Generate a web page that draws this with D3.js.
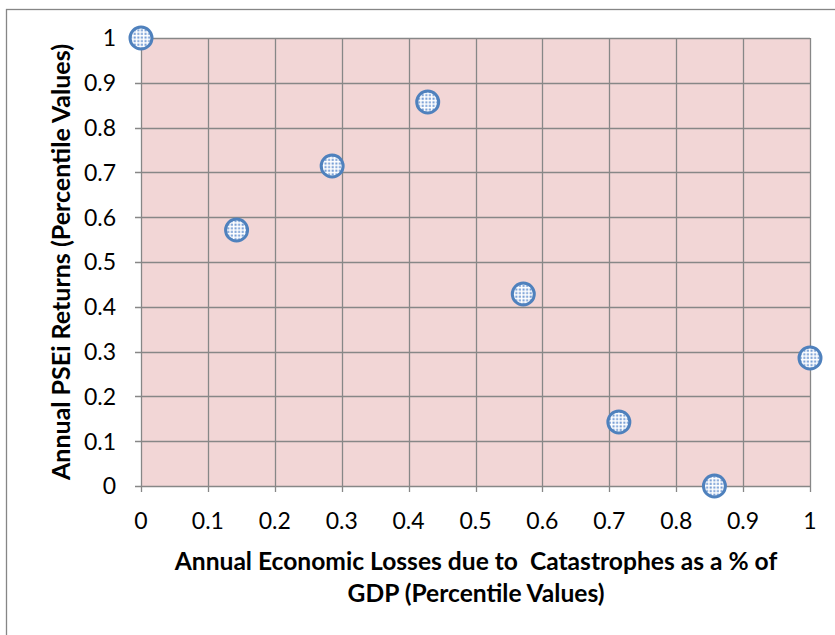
<!DOCTYPE html>
<html>
<head>
<meta charset="utf-8">
<script src="https://cdn.jsdelivr.net/npm/d3@7"></script>
<style>
  html, body { margin: 0; padding: 0; background: #fff; }
  svg { display: block; font-family: Lato, "Open Sans", sans-serif; }
</style>
</head>
<body>
<svg id="chart" width="835" height="635"></svg>
<script>
// Percentile values of each year
const lossPercentile = [0, 1/7, 2/7, 3/7, 4/7, 5/7, 6/7, 1];
const returnPercentile = [1, 4/7, 5/7, 6/7, 3/7, 1/7, 0, 2/7];
const xTicks = [0, 0.1, 0.2, 0.3, 0.4, 0.5, 0.6, 0.7, 0.8, 0.9, 1];
const yTicks = [0, 0.1, 0.2, 0.3, 0.4, 0.5, 0.6, 0.7, 0.8, 0.9, 1];
const xTitle = ["Annual Economic Losses due to  Catastrophes as a % of", "GDP (Percentile Values)"];
const yTitle = "Annual PSEi Returns (Percentile Values)";

const svg = d3.select("#chart");
const m = { left: 141, right: 810, top: 38, bottom: 486 };

const x = d3.scaleLinear().domain([0, 1]).range([m.left, m.right]);
const y = d3.scaleLinear().domain([0, 1]).range([m.bottom, m.top]);

// outer chart frame
svg.append("rect")
  .attr("x", 6.5).attr("y", 9.5).attr("width", 900).attr("height", 700)
  .attr("fill", "#fff").attr("stroke", "#868686").attr("stroke-width", 1.3);

// dotted fill for markers
const defs = svg.append("defs");
const pat = defs.append("pattern")
  .attr("id", "dots").attr("patternUnits", "userSpaceOnUse")
  .attr("width", 3.6).attr("height", 3.6);
pat.append("rect").attr("width", 3.6).attr("height", 3.6).attr("fill", "#ffffff");
pat.append("rect").attr("x", 0.5).attr("y", 0.5).attr("width", 2).attr("height", 2).attr("fill", "#6f98d2");

// plot area
svg.append("rect")
  .attr("x", m.left).attr("y", m.top)
  .attr("width", m.right - m.left).attr("height", m.bottom - m.top)
  .attr("fill", "#f2d6d6");

const gridColor = "#878787";

// vertical gridlines with ticks below the axis
svg.append("g").selectAll("line").data(xTicks).join("line")
  .attr("x1", d => Math.round(x(d)) + 0.5).attr("x2", d => Math.round(x(d)) + 0.5)
  .attr("y1", m.top).attr("y2", m.bottom + 6)
  .attr("stroke", gridColor).attr("stroke-width", 1.3);

// horizontal gridlines with ticks left of the axis
svg.append("g").selectAll("line").data(yTicks).join("line")
  .attr("y1", d => Math.round(y(d)) + 0.5).attr("y2", d => Math.round(y(d)) + 0.5)
  .attr("x1", m.left - 6).attr("x2", m.right)
  .attr("stroke", gridColor).attr("stroke-width", 1.3);

// tick labels
svg.append("g").selectAll("text").data(xTicks).join("text")
  .attr("x", d => x(d)).attr("y", 528.5)
  .attr("text-anchor", "middle").attr("font-size", 23).attr("fill", "#000")
  .text(d => d3.format("")(d));

svg.append("g").selectAll("text").data(yTicks).join("text")
  .attr("x", 116).attr("y", d => y(d) + 8.3)
  .attr("text-anchor", "end").attr("font-size", 23).attr("fill", "#000")
  .text(d => d3.format("")(d));

// axis titles
svg.append("g").selectAll("text").data(xTitle).join("text")
  .attr("x", 476).attr("y", (d, i) => 570 + i * 32)
  .attr("text-anchor", "middle").attr("font-size", 24.6).attr("font-weight", "bold")
  .attr("fill", "#000").attr("xml:space", "preserve")
  .text(d => d);

svg.append("text")
  .attr("transform", "translate(70,262) rotate(-90)")
  .attr("text-anchor", "middle").attr("font-size", 25).attr("font-weight", "bold")
  .attr("fill", "#000")
  .text(yTitle);

// data points
svg.append("g").selectAll("circle").data(lossPercentile.map((v, i) => [v, returnPercentile[i]]))
  .join("circle")
  .attr("cx", d => x(d[0])).attr("cy", d => y(d[1])).attr("r", 11)
  .attr("fill", "url(#dots)").attr("stroke", "#4f81bd").attr("stroke-width", 3);
</script>
</body>
</html>
